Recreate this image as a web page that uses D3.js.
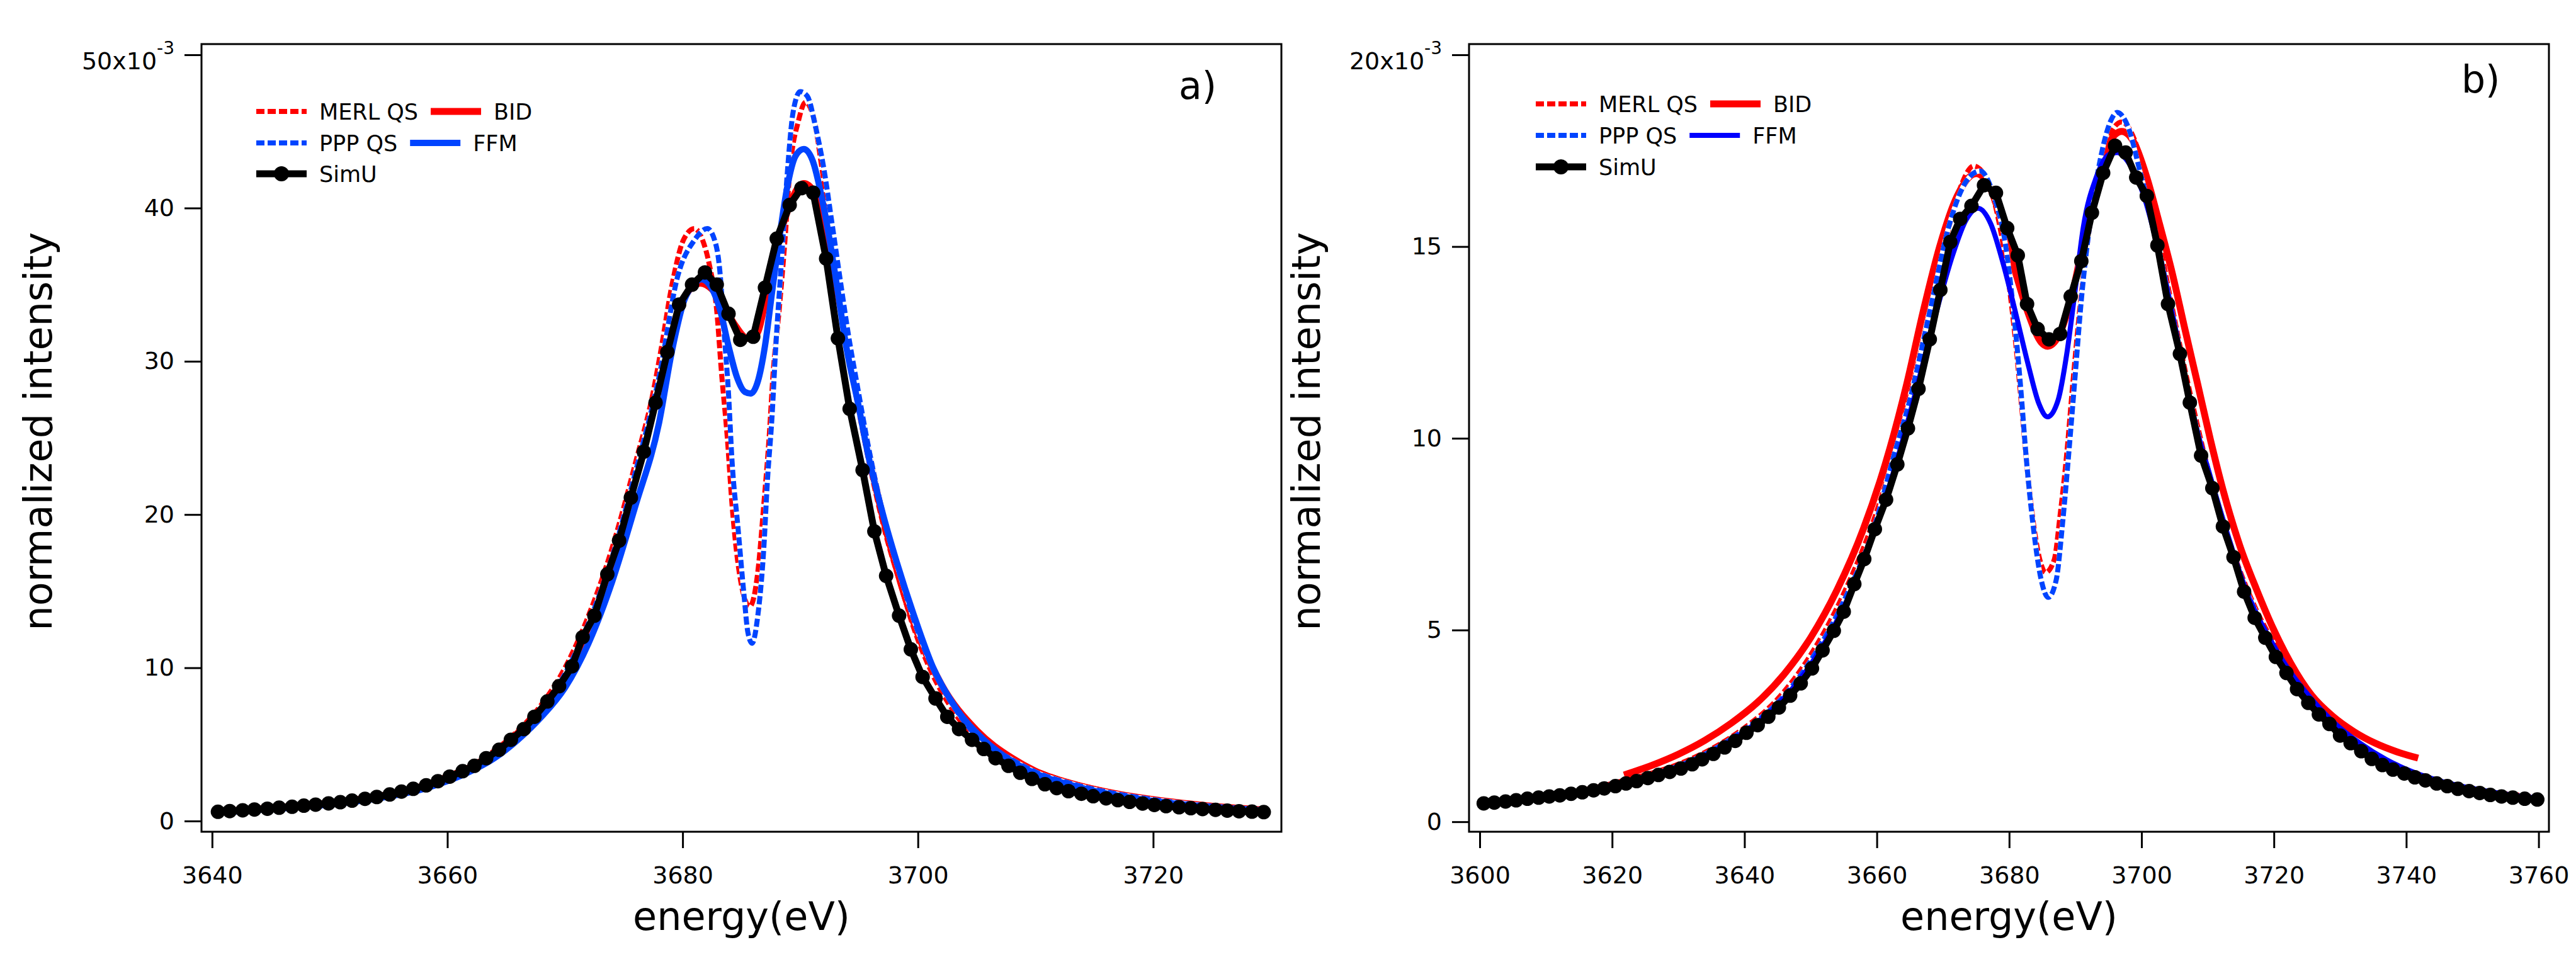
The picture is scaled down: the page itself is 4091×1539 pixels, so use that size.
<!DOCTYPE html>
<html>
<head>
<meta charset="utf-8">
<script src="https://cdn.jsdelivr.net/npm/d3@7"></script>
<style>
body{margin:0;background:#fff;}
text{font-family:"DejaVu Sans",sans-serif;fill:#000;}
</style>
</head>
<body>
<svg id="chart" width="4091" height="1539"></svg>
<script>
// energies in eV, intensities in units of 1e-3 (axes read "x10^-3")
// panel a)
var simuA=[[3640.5,0.6],[3641.5,0.65],[3642.6,0.7],[3643.6,0.75],[3644.7,0.8],[3645.7,0.87],[3646.8,0.93],[3647.8,1.0],[3648.8,1.07],[3649.9,1.15],
 [3650.9,1.23],[3651.9,1.33],[3653.0,1.45],[3654.0,1.57],[3655.1,1.73],[3656.1,1.92],[3657.1,2.1],[3658.2,2.33],[3659.2,2.6],[3660.2,2.9],
 [3661.3,3.25],[3662.3,3.6],[3663.3,4.1],[3664.4,4.65],[3665.4,5.3],[3666.5,6.0],[3667.4,6.8],[3668.5,7.8],[3669.5,8.8],[3670.6,10.1],
 [3671.5,12.0],[3672.5,13.4],[3673.6,16.1],[3674.6,18.3],[3675.6,21.1],[3676.7,24.1],[3677.7,27.3],[3678.7,30.6],[3679.7,33.7],[3680.8,35.0],
 [3681.9,35.8],[3682.9,35.0],[3683.9,33.1],[3684.9,31.4],[3686.0,31.6],[3687.0,34.8],[3688.0,38.0],[3689.1,40.2],[3690.1,41.3],[3691.1,41.0],
 [3692.2,36.7],[3693.2,31.5],[3694.2,26.9],[3695.3,22.9],[3696.3,18.9],[3697.3,16.0],[3698.4,13.4],[3699.4,11.2],[3700.4,9.4],[3701.5,8.0],
 [3702.5,6.8],[3703.5,6.0],[3704.6,5.3],[3705.6,4.7],[3706.6,4.1],[3707.7,3.6],[3708.7,3.15],[3709.7,2.75],[3710.8,2.4],[3711.8,2.15],
 [3712.8,1.95],[3713.9,1.78],[3714.9,1.62],[3716.0,1.48],[3717.0,1.36],[3718.0,1.25],[3719.1,1.14],[3720.1,1.05],[3721.1,0.97],[3722.2,0.9],
 [3723.2,0.84],[3724.2,0.78],[3725.3,0.73],[3726.3,0.68],[3727.3,0.64],[3728.4,0.61],[3729.4,0.58]];
var merlA=[[3640.5,0.62],[3645,0.86],[3650,1.2],[3655,1.8],[3658,2.35],[3660,2.95],[3662,3.6],[3664,4.6],[3666,5.9],[3668,7.6],
 [3670,10.0],[3672,13.4],[3674,17.8],[3676,23.4],[3677.5,28.0],[3678.15,30.7],[3679.1,35.0],[3680.06,37.9],[3681.0,38.66],[3681.7,37.9],
 [3682.3,36.2],[3682.9,33.3],[3683.3,29.3],[3683.8,25.0],[3684.2,20.65],[3684.8,16.3],[3685.7,14.0],[3686.4,16.3],[3686.9,20.65],[3687.35,25.0],
 [3687.7,29.3],[3688.2,33.3],[3688.7,37.9],[3689.1,42.3],[3689.85,45.7],[3690.45,46.9],[3691.2,45.7],[3691.9,42.3],[3692.5,39.4],[3693.2,35.6],
 [3693.9,31.9],[3694.6,28.4],[3695.35,25.3],[3696.3,21.8],[3697.3,18.6],[3698.5,15.5],[3699.6,12.7],[3701.1,9.8],[3703.0,7.2],[3705.1,5.2],
 [3707.8,4.1],[3710,3.3],[3713,2.5],[3716,1.95],[3720,1.42],[3725,0.98],[3729.5,0.72]];
var bidA=[[3640.5,0.6],[3645,0.85],[3650,1.17],[3655,1.72],[3658,2.3],[3660,2.85],[3662,3.5],[3664,4.45],[3666,5.75],[3668,7.3],
 [3670,9.4],[3672,12.7],[3674,16.9],[3676,22.4],[3678,28.3],[3679.5,33.0],[3680.5,34.6],[3681.5,35.1],[3682.5,34.7],[3683.5,33.6],
 [3684.5,32.3],[3685.5,31.5],[3686.3,31.8],[3687,33.8],[3688,37.4],[3689,40.0],[3690.3,41.6],[3691.2,41.0],[3692,38.8],[3693,35.2],
 [3694,31.3],[3695,27.2],[3696,23.3],[3697,19.9],[3698,17.0],[3699,14.4],[3700,12.2],[3702,8.9],[3705,5.9],[3708,4.1],
 [3710,3.25],[3713,2.45],[3716,1.9],[3720,1.4],[3725,0.97],[3729.5,0.72]];
var pppA=[[3640.5,0.6],[3645,0.85],[3650,1.18],[3655,1.75],[3658,2.3],[3660,2.85],[3662,3.5],[3664,4.4],[3666,5.6],[3668,7.2],
 [3670,9.6],[3672,12.9],[3674,17.2],[3676,22.8],[3678,29.0],[3679.6,35.6],[3681.0,37.9],[3682.1,38.66],[3682.8,37.7],[3683.2,35.6],
 [3683.5,32.2],[3683.9,27.9],[3684.2,23.5],[3684.7,19.2],[3685.2,14.9],[3685.55,12.3],[3685.9,11.6],[3686.4,13.45],[3686.9,17.8],[3687.2,22.1],
 [3687.6,26.4],[3687.9,30.7],[3688.4,36.5],[3688.9,42.3],[3689.4,46.3],[3690.0,47.6],[3690.6,47.3],[3691.3,45.3],[3692.0,42.6],[3692.7,39.0],
 [3693.4,35.3],[3694.1,31.7],[3694.9,28.2],[3695.6,25.2],[3696.5,21.8],[3697.5,18.6],[3698.7,15.5],[3699.8,12.8],[3701.3,9.9],[3703.2,7.3],
 [3705.3,5.3],[3708,4.0],[3710,3.2],[3713,2.45],[3716,1.9],[3720,1.4],[3725,0.97],[3729.5,0.7]];
var ffmA=[[3640.5,0.55],[3645,0.78],[3650,1.08],[3655,1.6],[3658,2.1],[3660,2.6],[3662,3.25],[3664,4.1],[3666,5.3],[3668,6.8],
 [3670,8.7],[3672,11.6],[3674,15.6],[3676,20.6],[3678,26.0],[3679.1,30.7],[3680.1,33.9],[3681.0,35.06],[3681.6,35.35],[3682.45,34.8],
 [3683.2,33.3],[3683.9,31.0],[3684.6,29.0],[3685.3,28.0],[3685.8,27.9],[3686.4,28.7],[3687.0,31.0],[3687.6,34.5],[3688.2,37.9],[3688.9,41.4],
 [3689.6,43.4],[3690.3,43.85],[3691.05,43.1],[3691.8,40.8],[3692.5,37.9],[3693.2,34.5],[3693.9,31.0],[3694.9,27.3],[3695.8,23.8],[3697.0,20.1],
 [3698.2,16.9],[3699.65,13.45],[3701.3,10.0],[3703.2,7.4],[3705.6,5.3],[3708,3.9],[3710,3.1],[3713,2.35],[3716,1.8],[3720,1.3],
 [3725,0.92],[3729.5,0.68]];
// panel b)
var simuB=[[3600.6,0.48],[3602.2,0.5],[3603.9,0.53],[3605.5,0.56],[3607.2,0.6],[3608.9,0.63],[3610.5,0.66],[3612.1,0.69],[3613.8,0.73],[3615.5,0.77],
 [3617.2,0.82],[3618.8,0.87],[3620.5,0.93],[3622.1,1.0],[3623.7,1.06],[3625.4,1.14],[3627.0,1.22],[3628.7,1.3],[3630.4,1.39],[3632.1,1.5],
 [3633.6,1.63],[3635.3,1.77],[3637.0,1.94],[3638.6,2.11],[3640.3,2.32],[3642.0,2.52],[3643.6,2.74],[3645.2,2.98],[3646.9,3.29],[3648.5,3.61],
 [3650.2,4.0],[3651.8,4.47],[3653.5,4.98],[3655.0,5.48],[3656.6,6.2],[3658.1,6.85],[3659.7,7.63],[3661.4,8.4],[3663.1,9.32],[3664.7,10.26],
 [3666.3,11.29],[3668.0,12.58],[3669.6,13.87],[3671.1,15.12],[3672.6,15.72],[3674.3,16.06],[3676.2,16.6],[3678.0,16.4],[3679.7,15.48],[3681.3,14.77],
 [3682.7,13.5],[3684.3,12.85],[3686.0,12.58],[3687.7,12.72],[3689.3,13.7],[3690.9,14.62],[3692.5,15.88],[3694.2,16.92],[3696.0,17.63],[3697.6,17.45],
 [3699.2,16.8],[3700.8,16.32],[3702.4,15.03],[3704.0,13.5],[3705.8,12.2],[3707.3,10.93],[3709.0,9.55],[3710.7,8.7],[3712.3,7.7],[3713.9,6.9],
 [3715.5,6.0],[3717.1,5.32],[3718.7,4.8],[3720.3,4.3],[3721.9,3.88],[3723.5,3.46],[3725.2,3.1],[3726.8,2.8],[3728.4,2.55],[3730.0,2.25],
 [3731.6,2.05],[3733.2,1.84],[3734.8,1.64],[3736.4,1.48],[3738.0,1.36],[3739.7,1.26],[3741.3,1.16],[3742.9,1.08],[3744.6,1.0],[3746.2,0.93],
 [3747.8,0.86],[3749.5,0.8],[3751.1,0.75],[3752.7,0.7],[3754.4,0.66],[3756.1,0.63],[3757.9,0.6],[3759.8,0.58]];
var merlB=[[3600.5,0.5],[3605,0.56],[3610,0.68],[3615,0.8],[3620,1.0],[3625,1.22],[3630,1.5],[3635,1.9],[3640,2.45],[3645,3.2],
 [3650,4.35],[3655,5.95],[3660,8.1],[3663,9.8],[3666,11.8],[3669,14.1],[3671.5,15.9],[3673,16.7],[3674.6,17.1],[3676.55,16.78],
 [3678.5,15.6],[3679.75,14.3],[3681.0,12.46],[3682.0,10.6],[3682.9,8.9],[3683.9,7.5],[3684.85,6.7],[3685.5,6.5],[3686.8,6.83],[3687.7,8.0],
 [3688.7,9.6],[3689.6,11.4],[3690.6,13.25],[3691.9,15.2],[3693.15,16.65],[3694.75,17.7],[3697.0,18.25],[3698.9,17.8],[3700.8,16.6],[3702.7,15.1],
 [3704.65,13.4],[3706.55,11.8],[3708.5,10.3],[3710.4,8.95],[3712.3,7.85],[3714.85,6.55],[3717.4,5.5],[3720.6,4.5],[3723.8,3.62],[3727.0,2.95],
 [3730.8,2.3],[3734.6,1.8],[3738.5,1.45],[3742.3,1.22],[3746.1,1.0],[3750.0,0.87],[3753.8,0.75],[3757.6,0.68],[3760.2,0.62]];
var bidB=[[3621.8,1.22],[3626,1.47],[3630,1.76],[3634,2.12],[3638,2.57],[3642,3.12],[3646,3.85],[3650,4.8],[3654,6.05],[3658,7.65],
 [3662,9.75],[3664.5,11.4],[3667,13.3],[3669.5,15.0],[3672.1,16.3],[3675.0,16.9],[3677.2,16.5],[3679.1,15.5],[3681.0,14.3],[3682.9,13.25],
 [3684.85,12.5],[3685.8,12.4],[3687.4,12.65],[3689.3,13.6],[3691.2,15.1],[3693.15,16.65],[3695.1,17.7],[3697.0,18.0],[3698.9,17.7],[3700.8,16.8],
 [3702.7,15.6],[3704.65,14.3],[3706.55,12.85],[3708.5,11.4],[3710.4,9.97],[3712.3,8.66],[3714.85,7.2],[3717.4,6.05],[3720.0,5.0],[3722.5,4.15],
 [3725.7,3.3],[3728.9,2.75],[3732.1,2.35],[3735.3,2.05],[3738.5,1.83],[3741.8,1.66]];
var pppB=[[3600.5,0.48],[3605,0.55],[3610,0.66],[3615,0.78],[3620,0.97],[3625,1.18],[3630,1.45],[3635,1.85],[3640,2.4],[3645,3.1],
 [3650,4.2],[3655,5.75],[3660,7.9],[3662.5,9.5],[3665,11.0],[3668,13.3],[3671,15.6],[3673.5,16.7],[3675.6,16.97],[3677.8,16.25],
 [3679.4,15.1],[3680.7,13.25],[3681.7,11.4],[3682.6,9.45],[3683.6,7.75],[3684.85,6.3],[3685.9,5.85],[3687.1,6.3],[3688.05,7.75],[3689.0,9.6],
 [3690.0,11.7],[3690.9,13.6],[3692.2,15.6],[3693.8,17.3],[3695.4,18.3],[3696.3,18.5],[3697.9,18.15],[3699.85,16.9],[3701.45,15.8],[3703.4,14.3],
 [3705.2,12.8],[3707,11.25],[3709,9.8],[3711,8.5],[3713,7.4],[3715,6.4],[3718,5.2],[3721,4.22],[3724,3.45],[3727,2.85],
 [3730,2.35],[3734,1.82],[3738,1.45],[3742,1.17],[3746,0.97],[3750,0.84],[3754,0.73],[3760,0.61]];
var ffmB=[[3600.5,0.48],[3605,0.55],[3610,0.65],[3615,0.77],[3620,0.95],[3625,1.15],[3630,1.42],[3635,1.8],[3640,2.35],[3645,3.05],
 [3650,4.1],[3655,5.6],[3660,7.75],[3663,9.4],[3666,11.3],[3669,13.3],[3671.5,14.8],[3673.5,15.7],[3675.3,16.0],[3677.2,15.6],
 [3679.1,14.55],[3681.0,13.25],[3682.9,11.9],[3684.5,10.9],[3685.8,10.56],[3687.4,11.0],[3688.7,12.2],[3690.0,13.9],[3691.2,15.5],[3693.15,16.8],
 [3695.1,17.4],[3696.3,17.45],[3698,17.2],[3700.2,16.4],[3702.7,14.8],[3705.3,12.7],[3707.8,10.6],[3710.4,9.0],[3713,7.5],[3716.1,5.9],
 [3719.3,4.8],[3722.5,3.9],[3725.7,3.2],[3729,2.6],[3733,2.05],[3737,1.62],[3741,1.3],[3745,1.07],[3750,0.87],[3755,0.72],[3760,0.61]];

var xTicksA=[3640,3660,3680,3700,3720];
var yTicksA=[0,10,20,30,40,50];
var xTicksB=[3600,3620,3640,3660,3680,3700,3720,3740,3760];
var yTicksB=[0,5,10,15,20];
var legendNames=["MERL QS","BID","PPP QS","FFM","SimU"];
var xTitle="energy(eV)", yTitle="normalized intensity";

var svg=d3.select("#chart");
svg.append("rect").attr("width",4091).attr("height",1539).attr("fill","#fff");

var RED="#ff0000", LBLUE="#0044ff", DBLUE="#0000ff";

function drawPanel(p){
	var g=svg.append("g");
	var x=d3.scaleLinear().domain(p.xDom).range([p.left,p.right]);
	var y=d3.scaleLinear().domain(p.yDom).range([p.bottom,p.top]);
	var clipId="clip"+p.name;
	svg.append("clipPath").attr("id",clipId).append("rect")
		.attr("x",p.left).attr("y",p.top).attr("width",p.right-p.left).attr("height",p.bottom-p.top);

	// axes - the frame is drawn separately so drop the domain path
	var ax=g.append("g").attr("transform","translate(0,"+p.bottom+")")
		.call(d3.axisBottom(x).tickValues(p.xTicks).tickFormat(d3.format("d")).tickSize(26).tickPadding(29));
	var ay=g.append("g").attr("transform","translate("+p.left+",0)")
		.call(d3.axisLeft(y).tickValues(p.yTicks).tickFormat(d3.format("d")).tickSize(27).tickPadding(16));
	[ax,ay].forEach(function(a){
		a.select(".domain").remove();
		a.selectAll(".tick line").attr("stroke","#000").attr("stroke-width",3);
		a.selectAll(".tick text").attr("font-size",38).attr("font-family","DejaVu Sans").attr("fill","#000");
	});
	// top tick label gets the x10^-3 multiplier
	var topVal=p.yTicks[p.yTicks.length-1];
	ay.selectAll(".tick").filter(function(d){return d==topVal;}).select("text")
		.text(null).attr("dy","0.6em")
		.call(function(t){
			t.append("tspan").text(topVal+"x10");
			t.append("tspan").attr("font-size",28).attr("dy",-24).text("-3");
		});

	g.append("rect").attr("x",p.left).attr("y",p.top)
		.attr("width",p.right-p.left).attr("height",p.bottom-p.top)
		.attr("fill","none").attr("stroke","#000").attr("stroke-width",3);

	var line=d3.line().x(function(d){return x(d[0]);}).y(function(d){return y(d[1]);}).curve(d3.curveMonotoneX);
	var plot=g.append("g").attr("clip-path","url(#"+clipId+")");
	p.series.forEach(function(s){
		if(s.dash){
			// igor paints the dash gaps in white
			plot.append("path").datum(s.data).attr("d",line).attr("fill","none")
				.attr("stroke","#fff").attr("stroke-width",s.w);
		}
		var path=plot.append("path").datum(s.data).attr("fill","none")
			.attr("stroke",s.color).attr("stroke-width",s.w).attr("stroke-linejoin","round");
		if(s.dash) path.attr("stroke-dasharray",s.dash);
		if(s.markers){
			path.attr("d",line.curve(d3.curveLinear));
			line.curve(d3.curveMonotoneX);
			plot.selectAll(null).data(s.data).enter().append("circle")
				.attr("cx",function(d){return x(d[0]);}).attr("cy",function(d){return y(d[1]);})
				.attr("r",11.5).attr("fill",s.color);
		}else{
			path.attr("d",line);
		}
	});

	// legend, igor style: two entries on the first two rows
	var lg=g.append("g");
	var order=[[0,1],[2,3],[4]];
	order.forEach(function(row,ri){
		var ly=p.legY[ri], lx=p.legX;
		row.forEach(function(si){
			var s=p.series.filter(function(d){return d.name==legendNames[si];})[0];
			if(s.dash){
				lg.append("line").attr("x1",lx).attr("x2",lx+80).attr("y1",ly).attr("y2",ly)
					.attr("stroke","#fff").attr("stroke-width",s.w);
			}
			var l=lg.append("line").attr("x1",lx).attr("x2",lx+80).attr("y1",ly).attr("y2",ly)
				.attr("stroke",s.color).attr("stroke-width",s.w);
			if(s.dash) l.attr("stroke-dasharray",s.dash);
			if(s.markers) lg.append("circle").attr("cx",lx+40).attr("cy",ly).attr("r",12).attr("fill",s.color);
			var t=lg.append("text").attr("x",lx+100).attr("y",ly).attr("dy","0.36em")
				.attr("font-size",35).text(s.name);
			lx=lx+100+t.node().getComputedTextLength()+20;
		});
	});

	g.append("text").attr("x",p.tagX).attr("y",p.tagY).attr("font-size",60).text(p.tag);
	g.append("text").attr("x",(p.left+p.right)/2).attr("y",1477).attr("text-anchor","middle")
		.attr("font-size",62).text(xTitle);
	g.append("text").attr("transform","translate("+p.yTitleX+",685) rotate(-90)")
		.attr("text-anchor","middle").attr("font-size",62).text(yTitle);
}

function styles(ffmColor,ffmW,d){
	return [
		{name:"MERL QS",data:d.merl,color:RED,w:8,dash:"13,5"},
		{name:"BID",data:d.bid,color:RED,w:11},
		{name:"PPP QS",data:d.ppp,color:LBLUE,w:8,dash:"13,5"},
		{name:"FFM",data:d.ffm,color:ffmColor,w:ffmW},
		{name:"SimU",data:d.simu,color:"#000",w:11,markers:true}
	];
}

drawPanel({name:"a",left:320,right:2035,top:70,bottom:1321,
	xDom:[3639.1,3730.9],yDom:[-0.7,50.7],xTicks:xTicksA,yTicks:yTicksA,
	legX:407,legY:[177,227,276],tag:"a)",tagX:1872,tagY:157,yTitleX:82,
	series:styles(LBLUE,10,{merl:merlA,bid:bidA,ppp:pppA,ffm:ffmA,simu:simuA})});
drawPanel({name:"b",left:2333,right:4048,top:70,bottom:1321,
	xDom:[3598.38,3761.56],yDom:[-0.26,20.28],xTicks:xTicksB,yTicks:yTicksB,
	legX:2439,legY:[165,215,265],tag:"b)",tagX:3909,tagY:147,yTitleX:2096,
	series:styles(DBLUE,8,{merl:merlB,bid:bidB,ppp:pppB,ffm:ffmB,simu:simuB})});
</script>
</body>
</html>
